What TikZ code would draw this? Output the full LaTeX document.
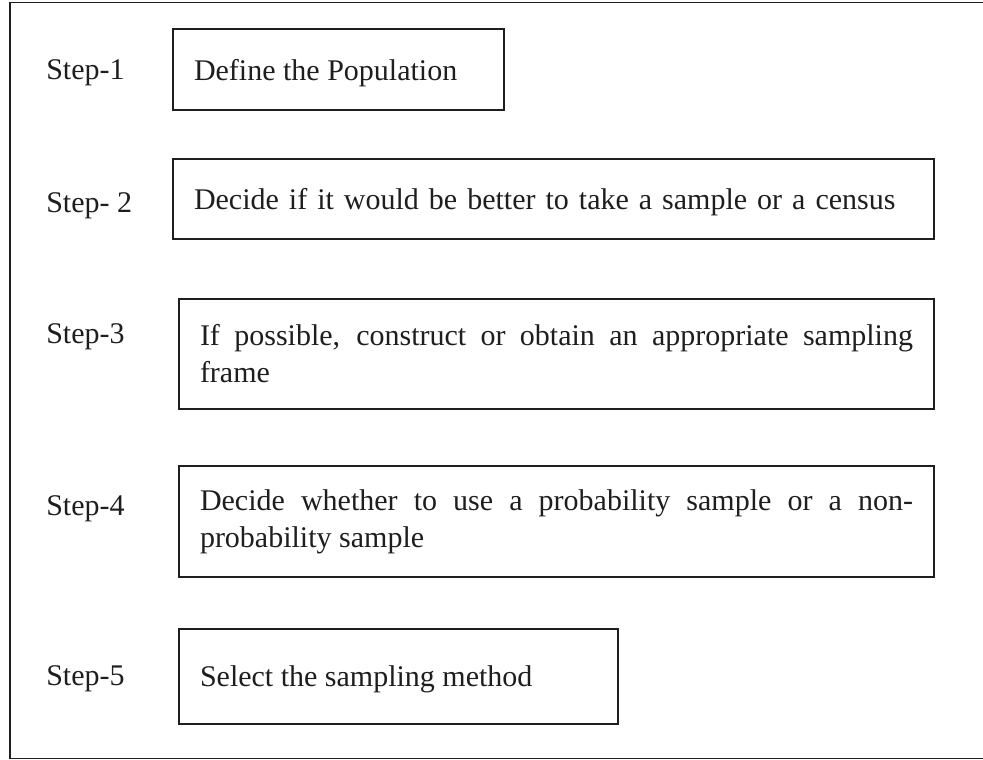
\documentclass[tikz,border=0pt]{standalone}
\usepackage{fontspec}
\setmainfont{Liberation Serif}
\definecolor{inkgray}{RGB}{30,30,30}
\begin{document}
\begin{tikzpicture}[x=0.75pt,y=0.75pt,yscale=-1,xscale=1,
  stepbox/.style={draw=inkgray, line width=1.5pt, anchor=north west, align=justify,
    inner xsep=15.75pt, inner ysep=0pt, text=inkgray,
    font=\fontsize{22.5}{27.75}\selectfont},
  oneline/.style={text depth=0pt},
  steplabel/.style={anchor=base west, inner sep=0pt, text=inkgray,
    font=\fontsize{22.5}{27.75}\selectfont}]
%set diagram size to 983 x 760
\useasboundingbox (0,0) rectangle (983,760);
%Outer frame
\draw [color=inkgray, line width=1.4pt] (990,2.5) -- (10,2.5) -- (10,758.5) -- (990,758.5) ;
%Boxes
\node [stepbox, oneline, text width=216.75pt, minimum height=60.75pt] (population) at (172,28) {Define the Population};
\node [stepbox, oneline, text width=539.25pt, minimum height=60pt, align=left] (census) at (172,158) {Decide if it would be better to take a sample or a census};
\node [stepbox, text width=534.75pt, minimum height=82.5pt] (frame) at (178,298) {If possible, construct or obtain an appropriate sampling\linebreak frame};
\node [stepbox, text width=534.75pt, minimum height=83.25pt] (probability) at (178,465) {Decide whether to use a probability sample or a non-\linebreak probability sample};
\node [stepbox, oneline, text width=297.75pt, minimum height=71.25pt] (method) at (178,628) {Select the sampling method};
% Step labels
\node [steplabel] (stepa) at (46,79) {Step-1};
\node [steplabel] (stepb) at (46,212) {Step- 2};
\node [steplabel] (stepc) at (46,343) {Step-3};
\node [steplabel] (stepd) at (46,515) {Step-4};
\node [steplabel] (stepe) at (46,685) {Step-5};
\end{tikzpicture}
\end{document}
